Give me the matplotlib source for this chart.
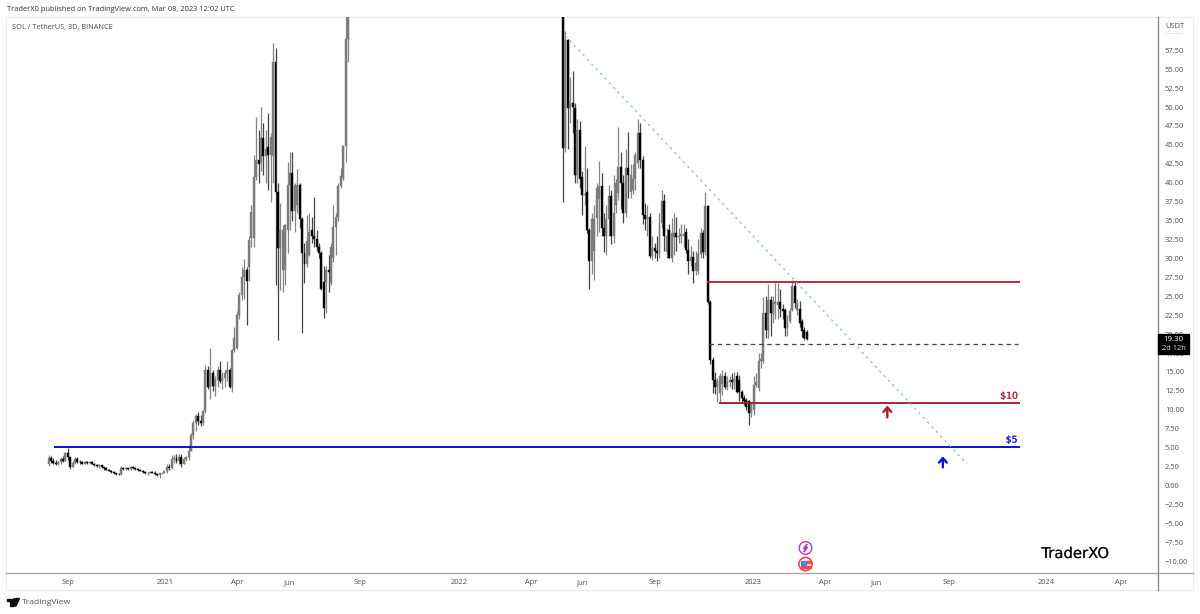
import datetime as dt

import matplotlib
matplotlib.use("Agg")
import matplotlib.dates as mdates
import matplotlib.patheffects as pe
import matplotlib.pyplot as plt
import numpy as np
from matplotlib.patches import Circle, Polygon, Rectangle

# --- Three-day SOL/USDT candles, Aug 2020 to the breakout above the visible range ---
START = dt.date(2020, 8, 11)
rally_first = 0
rally_open = [2.9,3.6,3.2,3.0,2.9,3.1,3.5,3.3,4.3,3.7,
    2.5,3.0,3.5,3.1,3.05,2.9,3.1,3.0,3.1,2.85,
    2.7,2.6,2.65,2.4,2.3,2.1,1.95,1.8,1.6,1.55,
    1.5,2.3,2.15,2.3,2.2,2.45,2.3,2.2,2.05,1.95,
    1.8,1.6,1.7,1.8,1.7,1.55,1.35,1.6,1.7,1.85,
    2.5,2.3,3.5,3.6,3.2,3.8,2.9,3.5,3.7,4.6,
    6.7,8.3,9.2,8.5,8.2,9.8,15.3,13.0,14.8,13.2,
    14.0,15.2,13.8,14.2,14.8,15.2,13.0,17.9,18.2,22.5,
    25.2,27.5,28.5,28.9,32.7,32.7,40.8,43.0,42.7,45.9,
    43.5,44.7,43.7,43.5,56.0,38.8,31.4,28.5,28.5,33.7,
    39.7,41.3,36.2,37.0,39.7,35.2,30.7,29.3,30.5,33.7,
    32.9,32.5,31.5,30.7,26.9,26.9,28.5,26.8,30.0,34.2,
    35.5,39.5,40.6,44.8,59.0]
rally_high = [4.0,3.9,3.6,3.4,3.3,3.7,3.9,4.4,4.9,3.8,
    3.3,3.8,3.7,3.4,3.2,3.2,3.3,3.25,3.2,2.95,
    2.9,2.85,2.7,2.5,2.4,2.2,2.05,1.9,1.7,1.65,
    2.6,2.5,2.4,2.5,2.55,2.6,2.45,2.3,2.2,2.05,
    1.85,1.8,1.9,1.95,1.85,1.65,1.7,1.8,1.95,2.8,
    2.9,4.0,4.0,4.2,4.1,4.1,3.7,3.9,5.3,7.0,
    8.6,9.5,9.7,9.3,10.0,15.9,15.8,18.1,15.2,14.5,
    15.8,16.5,15.0,15.2,16.4,15.5,18.0,20.9,23.0,25.5,
    28.9,29.9,28.8,33.0,37.0,43.7,48.7,47.0,50.0,47.9,
    47.0,49.2,46.5,58.4,57.8,40.0,37.3,34.4,34.6,42.8,
    44.1,44.0,40.0,41.8,40.0,35.5,32.0,35.7,36.0,35.5,
    38.1,33.8,32.0,31.0,29.0,29.0,30.5,32.0,37.0,36.0,
    40.0,42.0,45.0,70.0,75.0]
rally_low = [2.6,3.0,2.8,2.7,2.7,2.9,3.1,3.2,3.4,2.2,
    2.4,2.8,3.0,2.9,2.8,2.8,2.9,2.8,2.8,2.6,
    2.4,2.3,2.3,2.1,2.0,1.85,1.7,1.55,1.45,1.35,
    1.4,2.0,2.0,2.1,2.1,2.2,2.1,1.95,1.85,1.7,
    1.5,1.45,1.6,1.6,1.45,1.2,1.05,1.5,1.6,1.7,
    2.1,2.2,3.0,3.0,2.9,2.5,2.8,3.3,3.4,4.5,
    6.2,7.2,8.0,7.8,8.0,9.6,12.7,11.4,12.5,11.8,
    13.0,13.5,12.8,13.0,13.8,12.9,12.4,17.7,18.0,22.0,
    24.5,24.7,21.2,27.0,31.5,31.5,40.3,40.0,41.5,41.0,
    40.0,39.0,37.5,40.0,26.5,19.2,25.8,25.6,26.5,30.7,
    33.7,35.0,33.5,36.0,34.0,20.2,26.7,28.8,30.3,32.0,
    31.5,31.0,30.0,25.8,22.1,22.8,25.5,26.5,29.5,30.5,
    35.0,39.3,40.3,42.8,56.0]
rally_close = [3.6,3.2,3.0,2.9,3.1,3.5,3.3,4.3,3.7,2.5,
    3.0,3.5,3.1,3.05,2.9,3.1,3.0,3.1,2.85,2.7,
    2.6,2.65,2.4,2.3,2.1,1.95,1.8,1.6,1.55,1.5,
    2.3,2.15,2.3,2.2,2.45,2.3,2.2,2.05,1.95,1.8,
    1.6,1.7,1.8,1.7,1.55,1.35,1.6,1.7,1.85,2.5,
    2.3,3.5,3.6,3.2,3.8,2.9,3.5,3.7,4.6,6.7,
    8.3,9.2,8.5,8.2,9.8,15.3,13.0,14.8,13.2,14.0,
    15.2,13.8,14.2,14.8,15.2,13.0,17.9,19.5,22.5,25.2,
    27.5,28.5,27.0,32.4,36.1,40.8,43.0,42.5,45.9,43.5,
    44.5,43.7,46.0,56.0,38.8,31.4,33.7,33.7,34.4,39.7,
    41.3,36.2,39.7,39.7,35.2,30.7,29.3,32.3,33.5,33.0,
    32.5,31.5,30.7,26.0,23.4,28.5,28.2,31.5,34.2,35.5,
    39.5,40.9,44.8,59.0,70.0]

# --- Candles from the drop back into range, May 2022, up to the latest bar ---
decline_first = 213
decline_open = [70.0,44.6,58.8,49.9,50.5,49.9,41.0,47.0,40.8,38.4,
    38.8,33.7,29.6,31.0,35.3,37.9,39.5,34.0,33.0,35.2,
    38.2,33.0,37.0,38.6,42.1,40.0,36.0,42.0,38.8,39.0,
    40.5,42.6,46.6,43.0,35.7,35.2,35.5,30.3,31.4,31.0,
    30.9,34.7,37.6,30.8,33.8,30.0,32.8,33.4,32.8,33.0,
    33.0,33.5,31.1,29.6,30.2,28.4,28.4,30.6,33.3,30.9,
    36.9,24.3,16.6,13.9,13.0,12.2,13.4,14.4,13.0,13.7,
    13.9,13.7,14.4,14.0,12.4,11.6,11.3,11.1,9.6,10.0,
    13.3,12.9,16.4,16.4,22.8,20.5,24.5,22.6,24.0,23.9,
    24.3,23.3,23.2,20.8,21.7,23.2,26.3,23.2,23.3,21.7,
    20.6,20.3]
decline_high = [72.0,60.0,59.0,54.0,54.7,50.5,48.4,48.2,41.5,44.8,
    41.9,34.0,36.0,37.0,40.0,42.9,41.3,36.0,37.0,39.7,
    39.0,41.0,40.5,47.3,44.0,41.0,44.4,46.7,42.5,42.5,
    44.0,48.4,47.9,43.5,37.3,37.0,36.0,33.0,32.0,33.0,
    36.0,39.0,38.5,34.0,34.5,35.4,36.0,35.5,34.0,34.5,
    34.5,34.0,32.5,31.7,31.0,31.0,32.5,34.0,33.8,38.8,
    37.0,24.5,17.0,15.0,14.2,14.9,15.3,15.0,14.5,14.5,
    14.8,15.0,15.0,14.6,12.6,11.9,11.5,11.3,11.0,14.5,
    14.8,17.5,17.5,24.9,25.0,26.6,25.0,25.0,26.8,26.8,
    26.0,24.0,23.5,22.5,23.5,27.1,26.9,24.7,24.4,22.0,
    21.0,20.5]
decline_low = [37.4,44.0,44.5,47.9,46.5,40.0,40.0,39.3,35.7,37.0,
    33.3,25.9,28.0,27.1,33.0,33.5,33.0,30.9,30.5,33.0,
    31.9,32.0,36.0,37.7,36.5,34.7,35.5,38.0,38.0,38.5,
    39.0,42.0,42.0,34.5,33.7,33.0,30.0,29.8,30.0,29.7,
    30.0,34.0,31.0,30.0,30.0,29.5,30.5,31.0,32.0,32.0,
    31.5,30.7,27.9,29.0,26.8,27.8,28.0,30.0,30.0,30.4,
    24.0,16.0,12.2,12.1,11.0,10.9,12.0,12.8,12.6,13.0,
    12.8,12.7,12.2,11.2,11.0,10.6,10.0,8.0,9.0,9.3,
    13.0,12.5,15.5,16.2,19.5,19.5,19.7,21.5,22.0,22.0,
    22.3,22.0,19.7,19.7,21.5,23.0,23.4,22.5,21.0,19.6,
    19.2,19.2]
decline_close = [44.6,58.8,49.9,50.5,50.0,41.0,46.9,40.5,38.4,38.5,
    33.7,29.6,35.2,35.2,39.3,39.5,34.0,33.0,35.2,38.2,
    33.0,36.0,40.0,42.1,40.0,36.0,42.0,41.0,41.0,40.5,
    43.7,46.6,43.0,35.7,35.2,35.5,30.3,31.4,31.0,30.7,
    34.7,37.6,33.0,33.0,30.0,33.4,33.4,32.8,33.0,33.2,
    33.2,31.1,29.6,30.2,28.4,29.4,30.6,33.3,30.8,36.9,
    24.3,16.6,13.9,13.0,13.8,14.4,14.4,13.0,13.7,13.9,
    13.7,14.1,12.4,12.4,11.6,11.1,10.4,9.6,10.8,13.3,
    13.7,16.4,16.7,22.8,20.5,24.5,22.8,24.3,24.3,24.3,
    23.3,23.0,20.8,21.8,23.1,26.3,24.1,24.1,21.5,20.4,
    19.5,19.3]

# --- Axis contents ---
price_ticks = [-10,-7.5,-5,-2.5,0,2.5,5,7.5,10,12.5,15,17.5,20,22.5,25,27.5,30,
               32.5,35,37.5,40,42.5,45,47.5,50,52.5,55,57.5]
time_tick_dates = ["2020-09-04","2021-01-03","2021-04-02","2021-06-06","2021-09-02",
                   "2022-01-03","2022-04-02","2022-06-05","2022-09-03","2023-01-03",
                   "2023-04-03","2023-06-05","2023-09-03","2024-01-03","2024-04-04"]
time_tick_labels = ["Sep","2021","Apr","Jun","Sep","2022","Apr","Jun","Sep","2023",
                    "Apr","Jun","Sep","2024","Apr"]

# --- Analyst drawings ---
resistance_level = 26.85
resistance_span = ["2022-11-07", "2023-12-01"]
support_level = 10.85
support_span = ["2022-11-22", "2023-12-01"]
floor_level = 5.05
floor_span = ["2020-08-18", "2023-12-01"]
current_level = 18.65
current_span = ["2022-11-10", "2023-11-28"]
trend_dates = ["2022-05-15", "2023-09-26"]
trend_prices = [59.4, 2.84]
red_arrow = ("2023-06-19", 9.0, 10.55)
blue_arrow = ("2023-08-27", 2.4, 3.85)
last_price = 19.30

FONT = ["Open Sans", "DejaVu Sans"]
plt.rcParams["font.family"] = FONT
W, H = 1200, 614
fig = plt.figure(figsize=(W / 100, H / 100), dpi=100, facecolor="white")


def to_num(s):
    return mdates.date2num(dt.date.fromisoformat(s))


def day_at(px):
    # Horizontal scale of the chart: 0.805 pixels per calendar day.
    return mdates.date2num(START) + (px - 48.5) / 0.805


L, R, T, B = 6, 1158, 17, 573
ax = fig.add_axes([L / W, 1 - B / H, (R - L) / W, (B - T) / H])
ax.set_xlim(day_at(L), day_at(R))
ax.set_ylim((485.5 - B) / 7.57, (485.5 - T) / 7.57)


def draw_candles(first, o, h, l, c):
    o, h, l, c = map(np.array, (o, h, l, c))
    x = mdates.date2num(START) + 3 * (first + np.arange(len(o)))
    up = c >= o
    colors = np.where(up, "#7c7c7c", "#000000")
    ax.vlines(x, l, h, colors=np.where(up, "#858585", "#444444"), linewidth=0.9, zorder=2)
    ax.bar(x, np.abs(c - o), bottom=np.minimum(o, c), width=2.45, color=colors,
           edgecolor=colors, linewidth=0.3, zorder=3)


draw_candles(rally_first, rally_open, rally_high, rally_low, rally_close)
draw_candles(decline_first, decline_open, decline_high, decline_low, decline_close)


def hline(level, span, **kw):
    ax.plot([to_num(span[0]), to_num(span[1])], [level, level], solid_capstyle="butt", **kw)


hline(resistance_level, resistance_span, color="#b71c2c", lw=1.3, zorder=4)
hline(support_level, support_span, color="#a31526", lw=1.3, zorder=4)
hline(floor_level, floor_span, color="#1010d8", lw=1.4, zorder=4)
hline(current_level, current_span, color="#444444", lw=0.9, ls=(0, (3.6, 3)), zorder=4)
ax.plot([to_num(d) for d in trend_dates], trend_prices, color="#7fcc7f", lw=0.85,
        ls=(0, (2, 3.4)), zorder=4)

for (day, low, top), col in ((red_arrow, "#a81c2e"), (blue_arrow, "#1010e0")):
    ax.annotate("", xy=(to_num(day), top), xytext=(to_num(day), low),
                arrowprops=dict(arrowstyle="->,head_width=0.28,head_length=0.32", color=col,
                                lw=1.7, shrinkA=0, shrinkB=0), zorder=5)

thicken = [pe.withStroke(linewidth=0.12, foreground="#b0283a")]
ax.text(day_at(1009), 11.8, "$10", color="#b0283a", fontsize=6.7, ha="center", va="center",
        family=["DejaVu Sans"], path_effects=thicken)
thicken = [pe.withStroke(linewidth=0.12, foreground="#1818e0")]
ax.text(day_at(1011.5), 6.0, "$5", color="#1818e0", fontsize=6.7, ha="center", va="center",
        family=["DejaVu Sans"], path_effects=thicken)

# Price scale on the right, time scale along the bottom
ax.yaxis.tick_right()
ax.set_yticks(price_ticks)
ax.set_yticklabels([f"{v:.2f}".replace("-", "\u2212") for v in price_ticks])
ax.set_xticks([to_num(d) for d in time_tick_dates])
ax.set_xticklabels(time_tick_labels)
ax.tick_params(axis="y", length=0, pad=5, labelsize=5.4, labelcolor="#505050")
ax.tick_params(axis="x", length=0, pad=4.2, labelsize=5.4, labelcolor="#505050")
for name, spine in ax.spines.items():
    spine.set_visible(False)
ax.patch.set_alpha(0)

# Frame, header, footer and badges live on a pixel-space overlay
ov = fig.add_axes([0, 0, 1, 1], zorder=-1)
ov.set_xlim(0, W)
ov.set_ylim(H, 0)
ov.axis("off")
top = fig.add_axes([0, 0, 1, 1], zorder=5)
top.set_xlim(0, W)
top.set_ylim(H, 0)
top.axis("off")
top.patch.set_alpha(0)

ov.add_patch(Rectangle((6, 17), 1187, 573, fill=False, ec="#ececec", lw=0.8))
top.plot([6, 1193], [573, 573], color="#a8a8a8", lw=1.0)
top.plot([1158, 1158], [17, 590], color="#8a8a8a", lw=1.0)

top.text(7, 9.5, "TraderX0 published on TradingView.com, Mar 08, 2023 12:02 UTC",
         fontsize=5.45, color="#333333", va="center")
top.text(12, 27, "SOL / TetherUS, 3D, BINANCE", fontsize=5.35, color="#4a4a4a", va="center")
top.text(1165, 26, "USDT", fontsize=5.4, color="#505050", va="center")
top.plot([1165, 1182], [33, 33], color="#cfcfcf", lw=0.6, ls=(0, (1.5, 1.5)))

top.add_patch(Rectangle((1158, 334), 31, 19.5, color="#000000", zorder=6))
top.text(1173.5, 339.8, f"{last_price:.2f}", fontsize=5.7, color="white", ha="center",
         va="center", zorder=7)
top.text(1173.5, 348.5, "2d 12h", fontsize=5.4, color="#dddddd", ha="center", va="center", zorder=7)

top.text(1075.5, 553.5, "TraderXO", fontsize=10.7, color="#111111", ha="center", va="center",
         family=["DejaVu Sans"], path_effects=[pe.withStroke(linewidth=0.1, foreground="#111111")])

# Event badges above the time scale
top.add_patch(Circle((805.5, 548), 6.3, fc="white", ec="#a83fc8", lw=1.0))
top.add_patch(Polygon([(807, 544), (803.5, 548.5), (805.5, 548.5), (804, 552),
                       (807.5, 547.2), (805.6, 547.2)], color="#a83fc8"))
top.add_patch(Circle((805.5, 564), 6.6, fc="white", ec="#f04a50", lw=1.2))
top.add_patch(Rectangle((801, 560.5), 4.5, 5, color="#3f8fe8"))
top.add_patch(Rectangle((805.5, 561), 5, 1.6, color="#f04a50"))
top.add_patch(Rectangle((801, 566), 9.5, 1.8, color="#f04a50"))

# TradingView mark and name
top.add_patch(Polygon([(7, 598.5), (13, 598.5), (13, 606), (10, 606), (10, 601.2), (7, 601.2)],
                      color="#111111"))
top.add_patch(Circle((14.6, 600), 1.3, color="#111111"))
top.add_patch(Polygon([(16.5, 598.5), (19.5, 598.5), (16, 606), (13.2, 606)], color="#111111"))
top.text(22, 602.3, "TradingView", fontsize=6.1, color="#555555", va="center")

fig.savefig("out.png", dpi=100, facecolor="white")
